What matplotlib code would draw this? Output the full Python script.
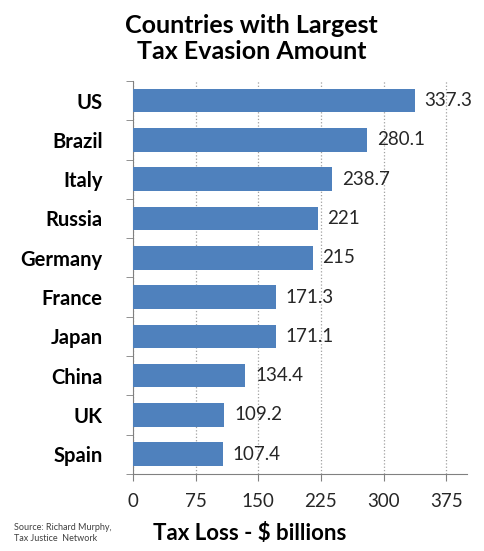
import matplotlib.pyplot as plt

countries = ['US', 'Brazil', 'Italy', 'Russia', 'Germany', 'France', 'Japan', 'China', 'UK', 'Spain']
tax_loss = [337.3, 280.1, 238.7, 221, 215, 171.3, 171.1, 134.4, 109.2, 107.4]
value_labels = ['337.3', '280.1', '238.7', '221', '215', '171.3', '171.1', '134.4', '109.2', '107.4']
x_ticks = [0, 75, 150, 225, 300, 375]

plt.rcParams['font.family'] = ['Lato', 'DejaVu Sans']

fig = plt.figure(figsize=(4.84, 5.51), dpi=100)
ax = fig.add_axes([0.275, 0.140, 0.69, 0.713])

pos = list(range(len(countries)))
ax.barh(pos, tax_loss, height=0.6, color='#4F81BD', zorder=3)
for p, v, lab in zip(pos, tax_loss, value_labels):
    ax.annotate(lab, (v, p), xytext=(7, 0), textcoords='offset points',
                va='center', ha='left', fontsize=13.5, color='#262626')

ax.set_ylim(len(countries) - 0.5, -0.5)
ax.set_xlim(0, 400)
ax.set_xticks(x_ticks)
ax.set_xticklabels([str(t) for t in x_ticks], fontsize=13.5, color='#262626')
ax.tick_params(axis='x', length=5, direction='out', color='#808080', pad=9)

# category labels + boundary ticks
ax.set_yticks(pos)
ax.set_yticklabels(countries, fontsize=14.5, fontweight='bold')
ax.tick_params(axis='y', length=0, pad=22)
ax.set_yticks([p - 0.5 for p in pos] + [len(countries) - 0.5], minor=True)
ax.tick_params(axis='y', which='minor', length=5, direction='out', color='#808080')

ax.grid(axis='x', linestyle=':', color='#a0a0a0', linewidth=0.9, zorder=0)
for s in ['top', 'right']:
    ax.spines[s].set_visible(False)
ax.spines['left'].set_color('#808080')
ax.spines['bottom'].set_color('#808080')

fig.text(0.52, 0.975, 'Countries with Largest\nTax Evasion Amount', ha='center', va='top',
         fontsize=18, fontweight='bold', linespacing=1.15)
fig.text(0.515, 0.032, 'Tax Loss - $ billions', ha='center', va='center',
         fontsize=16, fontweight='bold')
fig.text(0.028, 0.032, 'Source: Richard Murphy,\nTax Justice  Network', ha='left', va='center',
         fontsize=6.5, color='#404040', linespacing=1.3)

fig.savefig('out.png', dpi=100)
